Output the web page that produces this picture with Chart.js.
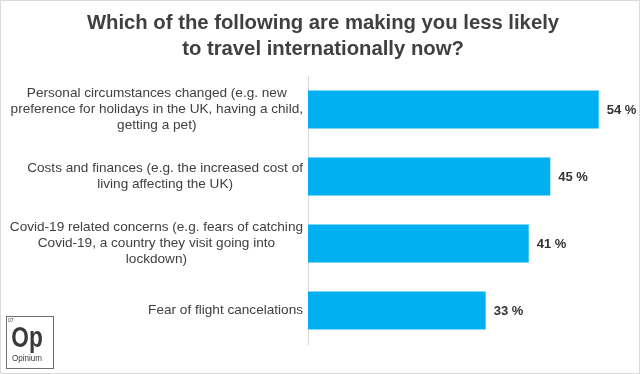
<!DOCTYPE html>
<html>
<head>
<meta charset="utf-8">
<script src="https://cdn.jsdelivr.net/npm/chart.js@4/dist/chart.umd.min.js"></script>
<style>
html,body{margin:0;padding:0;background:#fff;}
#wrap{width:640px;height:374px;position:relative;}
</style>
</head>
<body>
<div id="wrap"><canvas id="c" width="640" height="374"></canvas></div>
<script>
const titleLines = ["Which of the following are making you less likely", "to travel internationally now?"];
const categories = [
  ["Personal circumstances changed (e.g. new", "preference for holidays in the UK, having a child,", "getting a pet)"],
  ["Costs and finances (e.g. the increased cost of", "living affecting the UK)"],
  ["Covid-19 related concerns (e.g. fears of catching", "Covid-19, a country they visit going into", "lockdown)"],
  ["Fear of flight cancelations"]
];
const values = [54, 45, 41, 33];
const valueSuffix = " %";
const logoText = {small: "07", big: "Op", name: "Opinium"};

const FONT = "'Liberation Sans', Arial, sans-serif";

const decor = {
  id: 'decor',
  beforeDraw(chart) {
    const ctx = chart.ctx;
    ctx.save();
    ctx.fillStyle = '#fff';
    ctx.fillRect(0, 0, chart.width, chart.height);
    ctx.restore();
  },
  afterDraw(chart) {
    const ctx = chart.ctx;
    const area = chart.chartArea;
    const yScale = chart.scales.y;
    ctx.save();
    // Category labels: each block right-aligned, lines centered within block
    ctx.font = "13.6px " + FONT;
    ctx.fillStyle = '#404040';
    ctx.textBaseline = 'middle';
    ctx.textAlign = 'center';
    const rightEdge = area.left - 5;
    const lh = 16;
    categories.forEach((lines, i) => {
      const cy = yScale.getPixelForValue(i);
      let widest = 0;
      lines.forEach(l => { widest = Math.max(widest, ctx.measureText(l).width); });
      const cx = rightEdge - widest / 2;
      const y0 = cy - (lines.length - 1) * lh / 2;
      lines.forEach((l, k) => ctx.fillText(l, cx, y0 + k * lh));
    });
    // Value labels
    ctx.font = "bold 13px " + FONT;
    ctx.fillStyle = '#333333';
    ctx.textAlign = 'left';
    const meta = chart.getDatasetMeta(0);
    meta.data.forEach((bar, i) => {
      ctx.fillText(values[i] + valueSuffix, bar.x + 8, bar.y + 1);
    });
    // Title
    ctx.font = "bold 20.3px " + FONT;
    ctx.fillStyle = '#404040';
    ctx.textAlign = 'center';
    ctx.fillText(titleLines[0], 323, 23);
    ctx.fillText(titleLines[1], 323, 49);
    // Logo
    ctx.strokeStyle = '#6f6f6f';
    ctx.lineWidth = 1;
    ctx.strokeRect(6.5, 316.5, 47, 52);
    ctx.fillStyle = '#3a3a3a';
    ctx.textAlign = 'left';
    ctx.font = "5px " + FONT;
    ctx.fillText(logoText.small, 8, 321);
    ctx.save();
    ctx.translate(27, 339);
    ctx.scale(0.78, 1);
    ctx.textAlign = 'center';
    ctx.font = "bold 29px " + FONT;
    ctx.fillText(logoText.big, 0, 0);
    ctx.restore();
    ctx.save();
    ctx.translate(27, 358);
    ctx.scale(0.85, 1);
    ctx.textAlign = 'center';
    ctx.font = "9.5px " + FONT;
    ctx.fillText(logoText.name, 0, 0);
    ctx.restore();
    // Image frame
    ctx.strokeStyle = '#dadada';
    ctx.lineWidth = 2;
    ctx.strokeRect(0, 0, chart.width, chart.height);
    ctx.restore();
  }
};

new Chart(document.getElementById('c'), {
  type: 'bar',
  data: {
    labels: categories,
    datasets: [{
      data: values,
      backgroundColor: '#00B0F0',
      borderWidth: 0,
      barPercentage: 0.57,
      categoryPercentage: 1.0
    }]
  },
  options: {
    indexAxis: 'y',
    responsive: false,
    animation: false,
    devicePixelRatio: 1,
    layout: { padding: { left: 0, right: 9, top: 76, bottom: 30 } },
    plugins: { legend: { display: false }, tooltip: { enabled: false }, title: { display: false } },
    scales: {
      x: {
        min: 0, max: 60,
        display: false
      },
      y: {
        grid: { display: false, drawTicks: false },
        border: { display: true, color: '#d9d9d9', width: 1 },
        ticks: { display: false },
        afterFit(scale) { scale.width = 308; }
      }
    }
  },
  plugins: [decor]
});
</script>
</body>
</html>
